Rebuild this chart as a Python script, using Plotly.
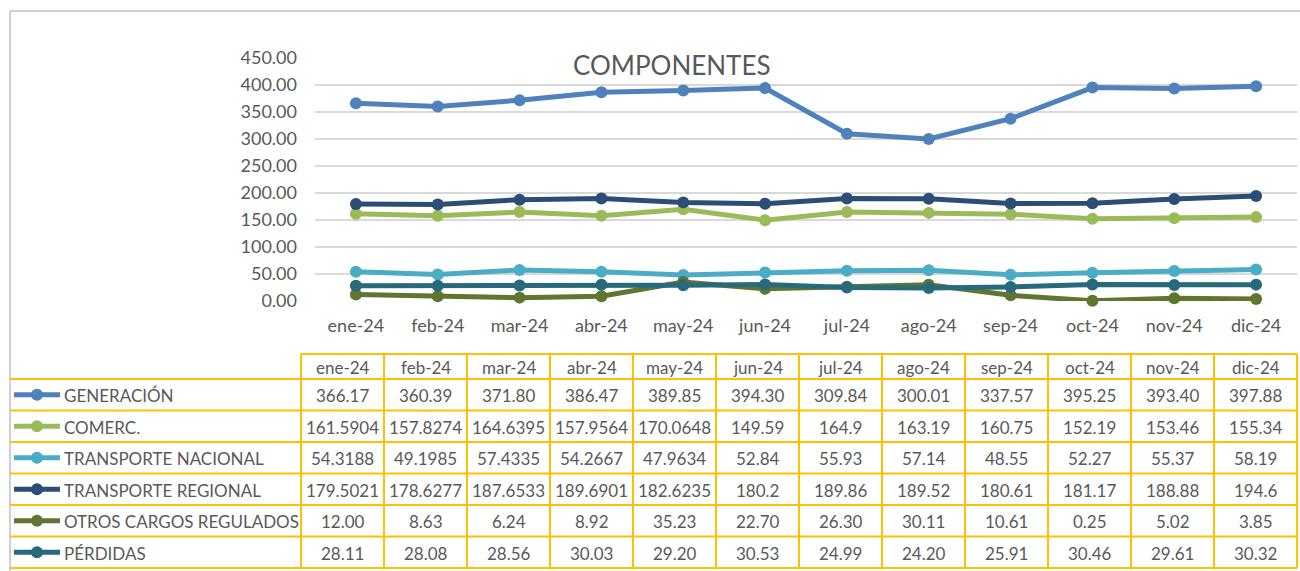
import plotly.graph_objects as go

# ---------------- data ----------------
months = ["ene-24", "feb-24", "mar-24", "abr-24", "may-24", "jun-24",
          "jul-24", "ago-24", "sep-24", "oct-24", "nov-24", "dic-24"]

series_names = ["GENERACIÓN", "COMERC.", "TRANSPORTE NACIONAL",
                "TRANSPORTE REGIONAL", "OTROS CARGOS REGULADOS", "PÉRDIDAS"]

generacion = ["366.17", "360.39", "371.80", "386.47", "389.85", "394.30",
              "309.84", "300.01", "337.57", "395.25", "393.40", "397.88"]
comerc = ["161.5904", "157.8274", "164.6395", "157.9564", "170.0648", "149.59",
          "164.9", "163.19", "160.75", "152.19", "153.46", "155.34"]
transporte_nacional = ["54.3188", "49.1985", "57.4335", "54.2667", "47.9634", "52.84",
                       "55.93", "57.14", "48.55", "52.27", "55.37", "58.19"]
transporte_regional = ["179.5021", "178.6277", "187.6533", "189.6901", "182.6235", "180.2",
                       "189.86", "189.52", "180.61", "181.17", "188.88", "194.6"]
otros_cargos = ["12.00", "8.63", "6.24", "8.92", "35.23", "22.70",
                "26.30", "30.11", "10.61", "0.25", "5.02", "3.85"]
perdidas = ["28.11", "28.08", "28.56", "30.03", "29.20", "30.53",
            "24.99", "24.20", "25.91", "30.46", "29.61", "30.32"]

all_series = [generacion, comerc, transporte_nacional, transporte_regional, otros_cargos, perdidas]
colors = ["#4F81BD", "#9BBB59", "#4BACC6", "#2C4D75", "#5F7530", "#276A7C"]

# ---------------- layout constants ----------------
W, H = 1300, 571
FONT = "Lato"
TXT = "#595959"
GRID = "#D9D9D9"
YELLOW = "#FFC000"

plot_left, plot_right = 315, 1297
plot_top, plot_bottom = 58, 301

tbl_left = 10
col0_right = 301
col_w = 83
hdr_top, hdr_bottom = 354, 379
row_h = 31.5

fig = go.Figure()

# ---------------- line chart ----------------
for name, vals, c in zip(series_names, all_series, colors):
    fig.add_trace(go.Scatter(
        x=months, y=[float(v) for v in vals], name=name,
        mode="lines+markers",
        line=dict(color=c, width=5),
        marker=dict(color=c, size=12),
        cliponaxis=False, showlegend=False,
        xaxis="x", yaxis="y",
    ))

# ---------------- table (in pixel-like axes) ----------------
col_edges = [col0_right + i * col_w for i in range(len(months) + 1)]
row_edges = [hdr_bottom + i * row_h for i in range(len(series_names) + 1)]

shapes = []
# image frame (gray)
shapes.append(dict(type="line", xref="x2", yref="y2", x0=tbl_left, x1=W, y0=11, y1=11,
                   line=dict(color="#D0D0D0", width=2)))
shapes.append(dict(type="line", xref="x2", yref="y2", x0=tbl_left, x1=tbl_left, y0=11, y1=H,
                   line=dict(color="#D0D0D0", width=2)))
# header top
shapes.append(dict(type="line", xref="x2", yref="y2", x0=col_edges[0], x1=col_edges[-1],
                   y0=hdr_top, y1=hdr_top, line=dict(color=YELLOW, width=2)))
# row lines
for ry in row_edges:
    shapes.append(dict(type="line", xref="x2", yref="y2", x0=tbl_left, x1=col_edges[-1],
                       y0=ry, y1=ry, line=dict(color=YELLOW, width=2)))
# vertical lines
for cx in col_edges:
    shapes.append(dict(type="line", xref="x2", yref="y2", x0=cx, x1=cx,
                       y0=hdr_top, y1=row_edges[-1], line=dict(color=YELLOW, width=2)))

annotations = []
# title
annotations.append(dict(text="COMPONENTES", xref="x2", yref="y2", x=672, y=65,
                        showarrow=False, font=dict(family=FONT, size=26, color=TXT)))
# header labels
for i, m in enumerate(months):
    annotations.append(dict(text=m, xref="x2", yref="y2",
                            x=(col_edges[i] + col_edges[i + 1]) / 2,
                            y=(hdr_top + hdr_bottom) / 2 + 1,
                            showarrow=False, font=dict(family=FONT, size=17, color=TXT)))
# row labels + values
for r, (name, vals, c) in enumerate(zip(series_names, all_series, colors)):
    cy = (row_edges[r] + row_edges[r + 1]) / 2
    annotations.append(dict(text=name, xref="x2", yref="y2", x=62, y=cy + 1,
                            xanchor="left", showarrow=False,
                            font=dict(family=FONT, size=17, color=TXT)))
    for i, v in enumerate(vals):
        annotations.append(dict(text=v, xref="x2", yref="y2",
                                x=(col_edges[i] + col_edges[i + 1]) / 2, y=cy + 1,
                                showarrow=False, font=dict(family=FONT, size=17, color=TXT)))
    # legend key
    fig.add_trace(go.Scatter(
        x=[14, 60], y=[cy, cy], mode="lines",
        line=dict(color=c, width=5), showlegend=False, hoverinfo="skip",
        xaxis="x2", yaxis="y2"))
    fig.add_trace(go.Scatter(
        x=[37], y=[cy], mode="markers",
        marker=dict(color=c, size=12), showlegend=False, hoverinfo="skip",
        xaxis="x2", yaxis="y2"))

fig.update_layout(
    template="none",
    width=W, height=H,
    margin=dict(l=0, r=0, t=0, b=0, pad=0, autoexpand=False),
    paper_bgcolor="white", plot_bgcolor="rgba(0,0,0,0)",
    showlegend=False,
    font=dict(family=FONT, color=TXT),
    xaxis=dict(
        domain=[plot_left / W, plot_right / W],
        anchor="y", type="category", range=[-0.5, len(months) - 0.5],
        showgrid=False, showline=False, zeroline=False, ticks="",
        automargin=False,
        tickfont=dict(family=FONT, size=18, color=TXT),
        ticklabelstandoff=12,
    ),
    yaxis=dict(
        domain=[1 - plot_bottom / H, 1 - plot_top / H],
        anchor="x", range=[0, 450], dtick=50, tickformat=".2f",
        showgrid=True, gridcolor=GRID, gridwidth=2,
        zeroline=False, showline=False, ticks="",
        automargin=False,
        tickfont=dict(family=FONT, size=18, color=TXT),
        ticklabelstandoff=17,
    ),
    xaxis2=dict(domain=[0, 1], anchor="y2", range=[0, W], visible=False,
                fixedrange=True, automargin=False),
    yaxis2=dict(domain=[0, 1], anchor="x2", range=[H, 0], visible=False,
                fixedrange=True, automargin=False),
    shapes=shapes,
    annotations=annotations,
)

fig.write_html("out.html", config={"displayModeBar": False},
               post_script="document.body.style.margin='0';")
